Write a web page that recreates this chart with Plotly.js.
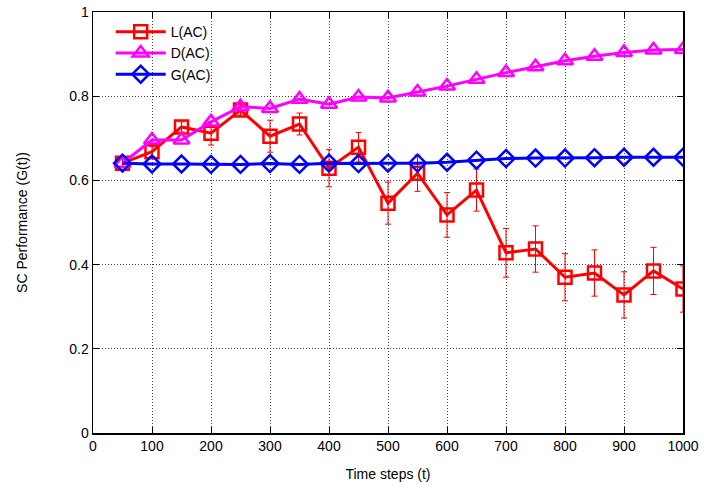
<!DOCTYPE html>
<html>
<head>
<meta charset="utf-8">
<script src="https://cdn.plot.ly/plotly-3.0.1.min.js"></script>
<style>html,body{margin:0;padding:0;background:#fff;}#chart{width:704px;height:488px;}</style>
</head>
<body>
<div id="chart"></div>
<script>
const timeSteps = [50,100,150,200,250,300,350,400,450,500,550,600,650,700,750,800,850,900,950,1000];
const lAC = [0.641,0.668,0.727,0.712,0.767,0.705,0.734,0.629,0.679,0.546,0.617,0.518,0.577,0.428,0.437,0.370,0.380,0.328,0.385,0.342];
const lACErr = [0.010,0.012,0.012,0.028,0.012,0.038,0.026,0.044,0.035,0.050,0.043,0.053,0.050,0.058,0.055,0.056,0.055,0.055,0.056,0.055];
const dAC = [0.641,0.696,0.696,0.739,0.775,0.771,0.793,0.781,0.798,0.796,0.810,0.824,0.840,0.856,0.870,0.884,0.895,0.904,0.910,0.911];
const gAC = [0.641,0.639,0.639,0.638,0.638,0.640,0.638,0.641,0.640,0.641,0.641,0.643,0.648,0.652,0.653,0.653,0.654,0.655,0.655,0.655];
const xTicks = [0,100,200,300,400,500,600,700,800,900,1000];
const yTicks = [0,0.2,0.4,0.6,0.8,1];
const yTickText = ["0","0.2","0.4","0.6","0.8","1"];

const traces = [
  {x: timeSteps, y: lAC, name: "L(AC)", mode: "lines+markers",
   line: {color: "#ff0000", width: 3},
   marker: {symbol: "square-open", size: 13, color: "#ff0000", line: {width: 2.5, color: "#ff0000"}},
   error_y: {type: "data", array: lACErr, visible: true, color: "#ff0000", thickness: 1, width: 3}},
  {x: timeSteps, y: dAC, name: "D(AC)", mode: "lines+markers",
   line: {color: "#ff00ff", width: 3},
   marker: {symbol: "triangle-up-open", size: 14, color: "#ff00ff", line: {width: 2.5, color: "#ff00ff"}}},
  {x: timeSteps, y: gAC, name: "G(AC)", mode: "lines+markers",
   line: {color: "#0000ff", width: 3},
   marker: {symbol: "diamond-open", size: 13, color: "#0000ff", line: {width: 2.5, color: "#0000ff"}}}
];

const axisCommon = {
  showline: true, linecolor: "#000", linewidth: 1.5, mirror: "ticks",
  ticks: "inside", ticklen: 6, tickcolor: "#000",
  showgrid: true, gridcolor: "#444", griddash: "1px,2px", gridwidth: 1,
  zeroline: false,
  tickfont: {family: "Liberation Sans, Arial, sans-serif", size: 14, color: "#000"}
};

const layout = {
  width: 704, height: 488,
  margin: {l: 93, r: 21, t: 12, b: 55},
  paper_bgcolor: "#fff", plot_bgcolor: "#fff",
  font: {family: "Liberation Sans, Arial, sans-serif", size: 14, color: "#000"},
  xaxis: Object.assign({}, axisCommon, {
    range: [0, 1000], tickvals: xTicks, ticktext: xTicks.map(String),
    title: {text: "Time steps (t)", font: {size: 14}, standoff: 16}
  }),
  yaxis: Object.assign({}, axisCommon, {
    range: [0, 1], tickvals: yTicks, ticktext: yTickText,
    title: {text: "SC Performance (G(t))", font: {size: 14}, standoff: 38}
  }),
  showlegend: true,
  legend: {x: 0.03, y: 0.99, xanchor: "left", yanchor: "top",
    bgcolor: "rgba(0,0,0,0)", borderwidth: 0,
    font: {size: 14, family: "Liberation Sans, Arial, sans-serif"},
    itemwidth: 50, tracegroupgap: 0}
};

Plotly.newPlot("chart", traces, layout, {displayModeBar: false, staticPlot: true});
</script>
</body>
</html>
